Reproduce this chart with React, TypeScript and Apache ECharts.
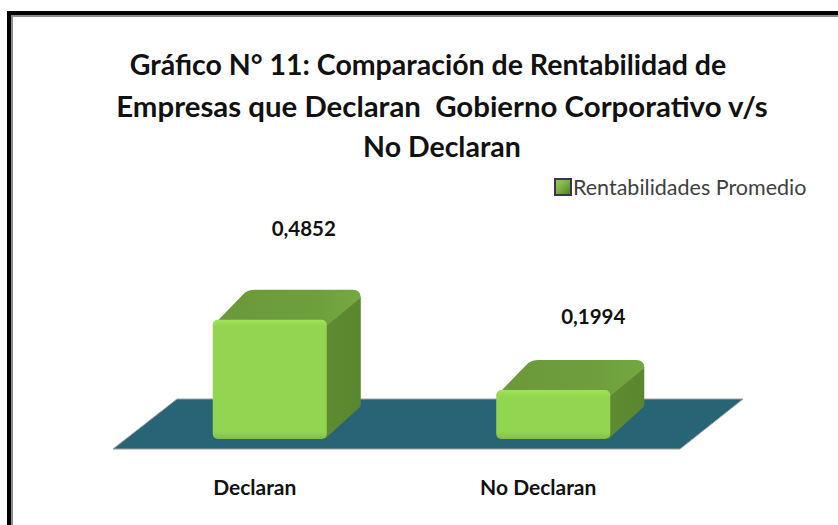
import React, { useEffect, useRef } from "react";
import * as echarts from "echarts";

const categories = ["Declaran", "No Declaran"];
const values = [0.4852, 0.1994];
const valueLabels = ["0,4852", "0,1994"];
const seriesName = "Rentabilidades Promedio";
const titleLines = [
  "Gráfico N° 11: Comparación de Rentabilidad de",
  "Empresas que Declaran  Gobierno Corporativo v/s",
  "No Declaran",
];
const titleCentres = [428, 442, 442];
const titleTops = [49, 91, 131];
const titleSizes = [28.5, 29.4, 28.5];
const labelLift = [92, 74];
const labelNudge = [0, 6];

const W = 838;
const H = 525;
const FONT = "Lato";
const GRID = { left: 113, width: 567, top: 193.2, height: 245.8 };
const DX = 34;
const DY = 30;
const BAR_W = 114;
const BAR_SHIFT = 15;

const renderBar = (params: any, api: any) => {
  const i = api.value(0);
  const [cx, top] = api.coord([i, api.value(1)]);
  const [, base] = api.coord([i, 0]);
  const l = cx + BAR_SHIFT - BAR_W / 2;
  const r = l + BAR_W;
  const sideBottom = base - DY + 1;
  const R = 5;
  const edge = Math.min(0.4, 7 / (base - top));
  const topPath = `M${l} ${top + 6} L${l + DX - 2} ${top - DY + 3} Q${l + DX + 2} ${top - DY} ${l + DX + 8} ${top - DY} L${r + DX - 8} ${top - DY} Q${r + DX} ${top - DY} ${r + DX} ${top - DY + 8} L${r} ${top + 6} Z`;
  const sidePath = `M${r - 2} ${top + 5} L${r + DX} ${top - DY + 7} L${r + DX} ${sideBottom - 5} Q${r + DX} ${sideBottom - 3} ${r + DX - 3} ${sideBottom - 1} L${r - 2} ${base} Z`;
  return {
    type: "group",
    children: [
      {
        type: "path",
        shape: { pathData: sidePath },
        style: {
          fill: new echarts.graphic.LinearGradient(0, 0, 1, 0, [
            { offset: 0, color: "#5F8B32" },
            { offset: 1, color: "#5B8630" },
          ]),
        },
      },
      {
        type: "path",
        shape: { pathData: topPath },
        style: {
          fill: new echarts.graphic.LinearGradient(0, 0, 1, 0, [
            { offset: 0, color: "#6A983A" },
            { offset: 0.7, color: "#6F9F3D" },
            { offset: 1, color: "#74A840" },
          ]),
        },
      },
      {
        type: "rect",
        shape: { x: l, y: top, width: BAR_W, height: base - top, r: R },
        style: {
          fill: new echarts.graphic.LinearGradient(0, 0, 0, 1, [
            { offset: 0, color: "#A0E456" },
            { offset: edge, color: "#93D451" },
            { offset: 1 - edge, color: "#93D451" },
            { offset: 1, color: "#82BE48" },
          ]),
        },
      },
      {
        type: "text",
        style: {
          text: valueLabels[i],
          x: l + BAR_W / 2 + DX + labelNudge[i],
          y: top - labelLift[i],
          align: "center",
          verticalAlign: "middle",
          font: `bold 20.5px ${FONT}`,
          fill: "#111111",
        },
      },
    ],
  };
};

const renderFloor = (params: any, api: any) => {
  const [c0, y0] = api.coord([0, 0]);
  const [c1] = api.coord([1, 0]);
  const band = c1 - c0;
  const x0 = c0 - band / 2;
  const x1 = c1 + band / 2;
  const front = y0 + 10;
  const back = y0 - 40;
  return {
    type: "group",
    children: [
      {
        type: "polygon",
        shape: {
          points: [
            [x0, front],
            [x1, front],
            [x1 + 63, back],
            [x0 + 64, back],
          ],
        },
        style: { fill: "#266476", stroke: "#A0A0A0", lineWidth: 1 },
      },
    ],
  };
};

export default function App() {
  const ref = useRef<HTMLDivElement>(null);
  useEffect(() => {
    document.body.style.margin = "0";
    const chart = echarts.init(ref.current!, undefined, { renderer: "svg" });
    chart.setOption({
      animation: false,
      backgroundColor: "#FFFFFF",
      title: titleLines.map((text, i) => ({
        text,
        left: titleCentres[i],
        top: titleTops[i],
        padding: 0,
        textAlign: "center",
        textStyle: {
          fontFamily: FONT,
          fontWeight: "bold",
          fontSize: titleSizes[i],
          color: "#111111",
        },
      })),
      legend: {
        data: [{ name: seriesName, icon: "rect" }],
        left: 554,
        top: 176,
        padding: 0,
        itemWidth: 16,
        itemHeight: 16,
        itemGap: 4,
        textStyle: { fontFamily: FONT, fontSize: 21.5, color: "#404040", padding: [0, 0, 0, -3] },
        itemStyle: {
          color: new echarts.graphic.LinearGradient(0, 0, 1, 1, [
            { offset: 0, color: "#93D451" },
            { offset: 0.5, color: "#78AE42" },
            { offset: 1, color: "#4F7A2A" },
          ]),
          borderColor: "#3F3151",
          borderWidth: 2,
        },
      },
      grid: GRID,
      xAxis: {
        type: "category",
        data: categories,
        axisLine: { show: false },
        axisTick: { show: false },
        axisLabel: {
          margin: 37,
          fontFamily: FONT,
          fontWeight: "bold",
          fontSize: 21,
          color: "#111111",
        },
      },
      yAxis: { type: "value", min: 0, max: 1, show: false, splitLine: { show: false } },
      graphic: [
        { type: "rect", shape: { x: 7, y: 11, width: 4, height: H - 11 }, style: { fill: "#000000" }, silent: true },
        { type: "rect", shape: { x: 7, y: 11, width: W - 7, height: 4 }, style: { fill: "#000000" }, silent: true },
        { type: "rect", shape: { x: 11, y: 15, width: 2, height: H - 15 }, style: { fill: "#8C8C8C" }, silent: true },
        { type: "rect", shape: { x: 11, y: 15, width: W - 11, height: 2 }, style: { fill: "#8C8C8C" }, silent: true },
      ],
      series: [
        {
          type: "custom",
          name: "floor",
          renderItem: renderFloor,
          data: [[0, 0]],
          silent: true,
          z: 1,
        },
        {
          type: "custom",
          name: seriesName,
          renderItem: renderBar,
          encode: { x: 0, y: 1 },
          data: values.map((v, i) => [i, v]),
          itemStyle: { color: "#6FA03C" },
          z: 2,
        },
      ],
    });
    return () => chart.dispose();
  }, []);
  return <div ref={ref} style={{ width: W, height: H }} />;
}
